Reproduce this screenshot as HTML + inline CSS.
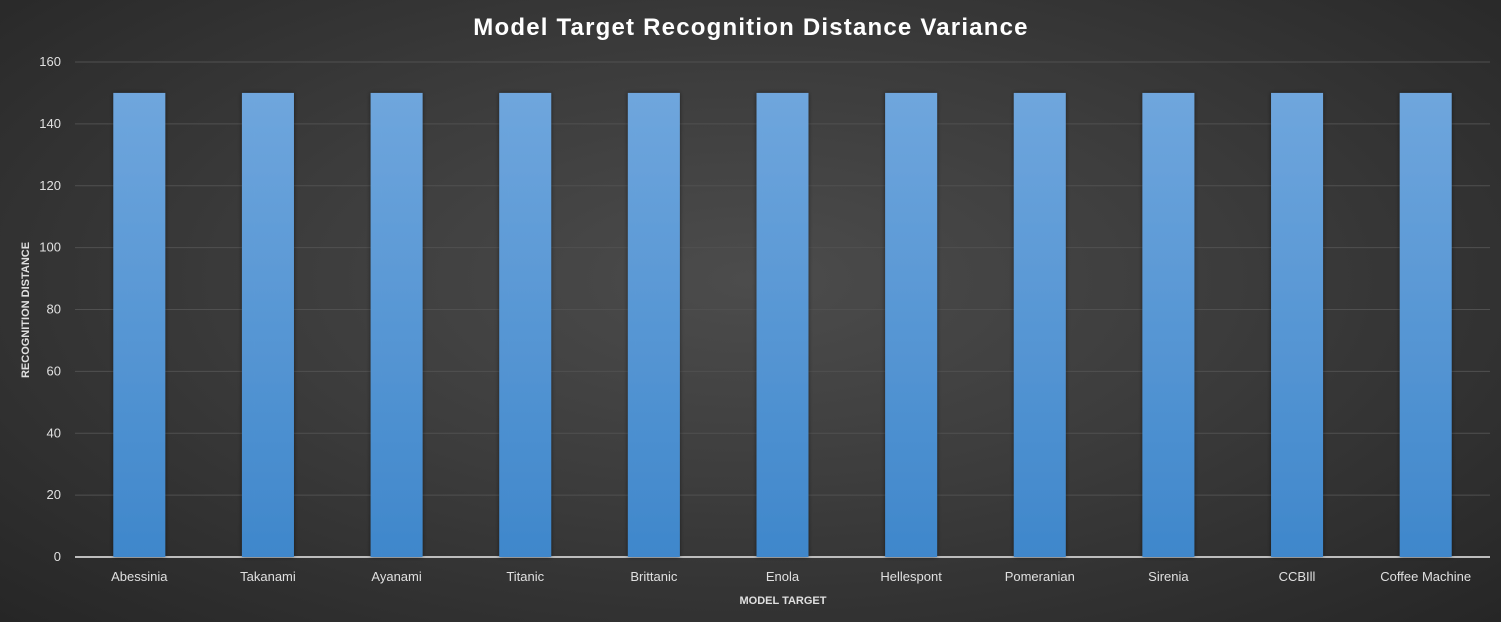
<!DOCTYPE html>
<html><head><meta charset="utf-8">
<style>
html,body{margin:0;padding:0;}
body{width:1501px;height:622px;overflow:hidden;background:radial-gradient(ellipse at 50% 45%,#4c4c4c 0%,#3c3c3c 45%,#262626 100%);font-family:"Liberation Sans",sans-serif;}
svg{display:block}
</style></head>
<body>
<svg id="chart" width="1501" height="622" xmlns="http://www.w3.org/2000/svg">
<defs>
<linearGradient id="barg" x1="0" y1="0" x2="0" y2="1">
<stop offset="0" stop-color="#6fa6dd"/><stop offset="1" stop-color="#3f87cb"/>
</linearGradient>
<filter id="sh" x="-20%" y="-5%" width="140%" height="110%"><feDropShadow dx="0" dy="0" stdDeviation="2" flood-color="#000" flood-opacity="0.5"/></filter>
</defs>
<text x="751" y="35" text-anchor="middle" fill="#ffffff" font-size="24" font-weight="bold" style="letter-spacing:1.2px">Model Target Recognition Distance Variance</text>
<g id="grid"></g><g id="bars"></g><g id="labels"></g>
<text transform="translate(29,310) rotate(-90)" text-anchor="middle" fill="#e0e0e0" font-size="11" font-weight="bold">RECOGNITION DISTANCE</text>
<text x="783" y="604" text-anchor="middle" fill="#e0e0e0" font-size="11" font-weight="bold">MODEL TARGET</text>
</svg>
<script>
const categories=["Abessinia","Takanami","Ayanami","Titanic","Brittanic","Enola","Hellespont","Pomeranian","Sirenia","CCBIll","Coffee Machine"];
const values=[150,150,150,150,150,150,150,150,150,150,150];
const yTicks=[0,20,40,60,80,100,120,140,160];
const NS="http://www.w3.org/2000/svg";
const x0=75,x1=1490,y0=557,y1=62,yMax=160;
const band=(x1-x0)/categories.length,bw=52;
const ys=v=>y0-(v/yMax)*(y0-y1);
const xc=i=>x0+band*(i+0.5);
function mk(t,a,p){const e=document.createElementNS(NS,t);for(const k in a)e.setAttribute(k,a[k]);p.appendChild(e);return e;}
const g=document.getElementById('grid'),b=document.getElementById('bars'),l=document.getElementById('labels');
yTicks.forEach(v=>{
  const ln=mk('line',{x1:x0,x2:x1,y1:ys(v),y2:ys(v),stroke:v===0?'#bdbdbd':'#505050','stroke-width':v===0?2:1},g);
  
  
  const t=mk('text',{x:61,y:ys(v)+4,'text-anchor':'end',fill:'#e0e0e0','font-size':13},g);
  t.textContent=v;
  
  
});
categories.forEach((c,i)=>{
  const r=mk('rect',{x:xc(i)-bw/2,y:ys(values[i]),width:bw,height:y0-ys(values[i]),fill:'url(#barg)',filter:'url(#sh)'},b);
  
  
  const t=mk('text',{x:xc(i),y:581,'text-anchor':'middle',fill:'#e0e0e0','font-size':13},l);
  t.textContent=c;
  
  
});
</script>
</body></html>
